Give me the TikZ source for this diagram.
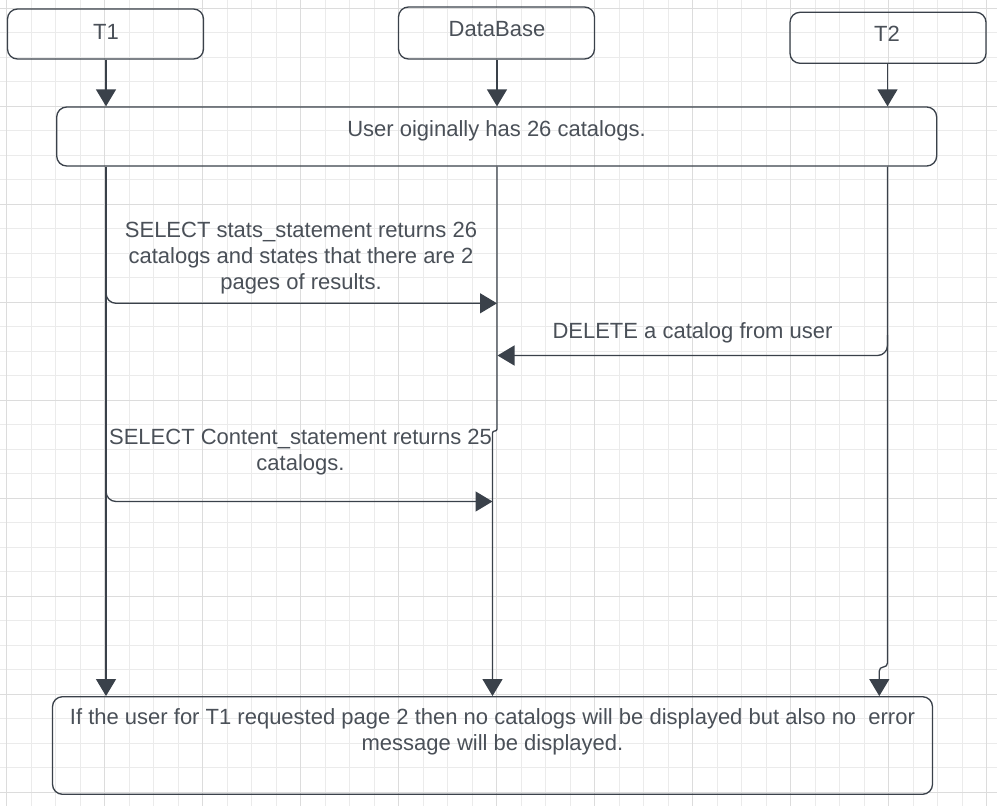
\documentclass[tikz,border=0pt]{standalone}
\usepackage{fontspec}
\setmainfont{Liberation Sans}
\usetikzlibrary{arrows.meta}
\definecolor{ln}{HTML}{3A414A}
\definecolor{tx}{HTML}{4A5058}
\definecolor{gmin}{HTML}{EBEBEB}
\definecolor{gmaj}{HTML}{DCDCDC}
\begin{document}
\begin{tikzpicture}[x=1pt,y=-1pt,
  box/.style={draw=ln,line width=1.3pt,rounded corners=10pt,inner sep=0pt},
  txt/.style={text=tx,font=\fontsize{22}{26.3}\selectfont,inner sep=0pt,anchor=base,align=center},
  arr/.style={draw=ln,line width=1.3pt,-{Triangle[length=17pt,width=20pt]}},
  life/.style={draw=ln,line width=1.3pt}]
\useasboundingbox (0,0) rectangle (997,806);
\fill[white] (0,0) rectangle (997,806);
% grid
\foreach \i in {0,...,40}{\pgfmathsetmacro\gx{6.7+24.5*\i}\draw[gmin,line width=1pt] (\gx,0) -- (\gx,806);}
\foreach \i in {0,...,32}{\pgfmathsetmacro\gy{8+24.5*\i}\draw[gmin,line width=1pt] (0,\gy) -- (997,\gy);}
\foreach \i in {0,...,10}{\pgfmathsetmacro\gx{6.7+98*\i}\draw[gmaj,line width=1pt] (\gx,0) -- (\gx,806);}
\foreach \i in {0,...,8}{\pgfmathsetmacro\gy{8+98*\i}\draw[gmaj,line width=1pt] (0,\gy) -- (997,\gy);}
% boxes
\node[box,minimum width=196pt,minimum height=50pt] (t1) at (105.5,34) {};
\node[box,minimum width=196pt,minimum height=52pt] (db) at (496.5,33) {};
\node[box,minimum width=196pt,minimum height=51pt] (t2) at (888,37.8) {};
\node[box,minimum width=880pt,minimum height=59pt] (top) at (496.7,136.5) {};
\node[box,minimum width=880pt,minimum height=97.6pt] (bot) at (492.5,745.5) {};
% box texts
\node[txt] (t1l) at (106,39) {T1};
\node[txt] (dbl) at (497,36) {DataBase};
\node[txt] (t2l) at (887,41.7) {T2};
\node[txt] (topl) at (496.5,136.7) {User oiginally has 26 catalogs.};
\node[txt] (botl) at (492.5,750.3) {If the user for T1 requested page 2 then no catalogs will be displayed but also no\ \ error\\message will be displayed.};
% arrows from headers
\coordinate (c1) at (106,0);
\coordinate (c2) at (497,0);
\coordinate (c3) at (887.5,0);
\coordinate (c2b) at (492.5,0);
\coordinate (c3b) at (879.3,0);
\draw[arr] (t1.south -| c1) -- (c1 |- top.north);
\draw[arr] (db.south -| c2) -- (c2 |- top.north);
\draw[arr] (t2.south -| c3) -- (c3 |- top.north);
% lifelines
\draw[arr] (top.south -| c1) -- (c1 |- bot.north);
\draw[arr,rounded corners=2pt] (top.south -| c2) -- (497,431) -- (492.5,431) -- (c2b |- bot.north);
\draw[arr,rounded corners=4pt] (top.south -| c3) -- (887.5,667) -- (879.3,667) -- (c3b |- bot.north);
% messages
\draw[arr,rounded corners=10pt] (106,285) |- (497,303.3);
\draw[arr,rounded corners=10pt] (887.5,335) |- (497.5,355.5);
\draw[arr,rounded corners=10pt] (106,485) |- (492.5,501.5);
% message labels
\node[txt] (m1) at (301,289.9) {SELECT stats\_statement returns 26\\catalogs and states that there are 2\\pages of results.};
\node[txt] (m2) at (692.5,338.3) {DELETE a catalog from user};
\node[txt] (m3) at (300.5,470.3) {SELECT Content\_statement returns 25\\catalogs.};
\end{tikzpicture}
\end{document}
